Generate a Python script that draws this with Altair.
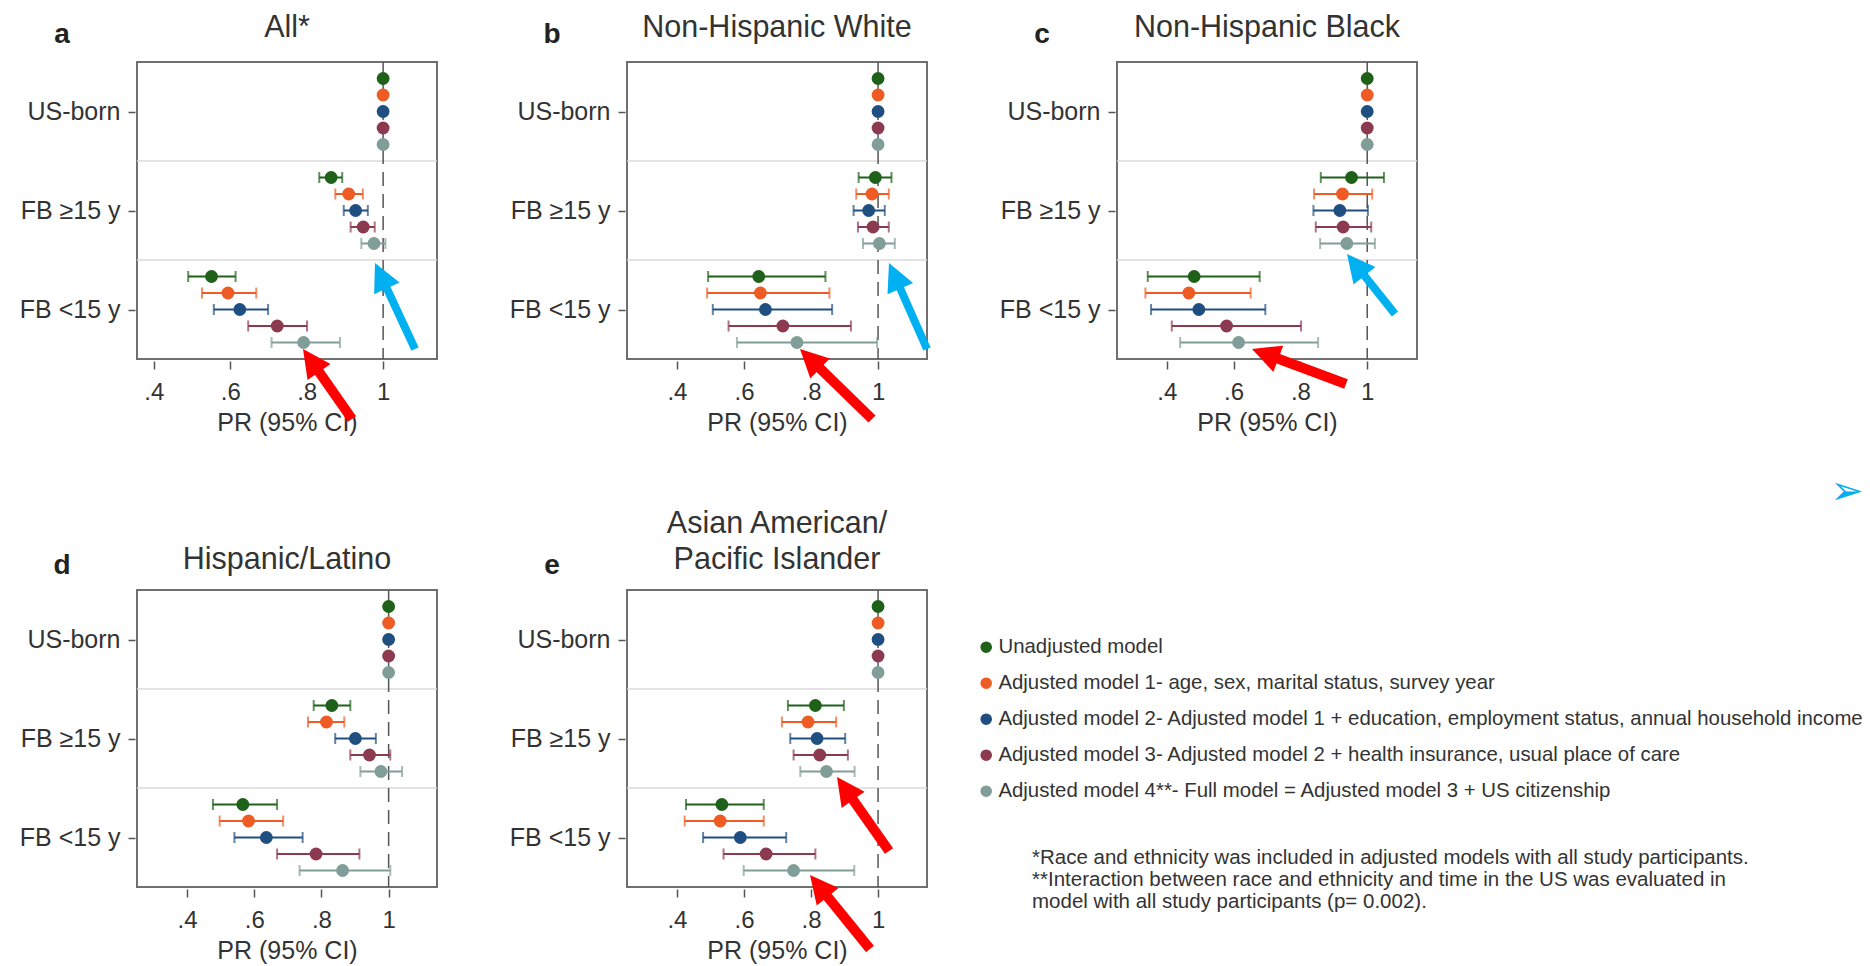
import json
import math
import altair as alt
import pandas as pd

FONT = "Liberation Sans, Arial, Helvetica, sans-serif"
TEXT = "#333333"

# ---------------- data ----------------
groups = ["US-born", "FB \u226515 y", "FB <15 y"]
models = [
    "Unadjusted model",
    "Adjusted model 1- age, sex, marital status, survey year",
    "Adjusted model 2- Adjusted model 1 + education, employment status, annual household income",
    "Adjusted model 3- Adjusted model 2 + health insurance, usual place of care",
    "Adjusted model 4**- Full model = Adjusted model 3 + US citizenship",
]
model_colors = ["#1f6118", "#ee5b24", "#1f4f80", "#8c3a4f", "#809e97"]

letters = ["a", "b", "c", "d", "e"]
titles = [["All*"], ["Non-Hispanic White"], ["Non-Hispanic Black"], ["Hispanic/Latino"],
          ["Asian American/", "Pacific Islander"]]
x_domains = [[0.356, 1.141], [0.251, 1.146], [0.251, 1.149], [0.251, 1.144], [0.251, 1.146]]
x_ticks = [0.4, 0.6, 0.8, 1.0]
null_value = 1.0

# order within each list: US-born (5 models), FB >=15 y (5 models), FB <15 y (5 models)
pr_a = [1, 1, 1, 1, 1, 0.864, 0.910, 0.928, 0.948, 0.976, 0.551, 0.594, 0.625, 0.723, 0.792]
lo_a = [None] * 5 + [0.833, 0.875, 0.897, 0.915, 0.943, 0.490, 0.526, 0.557, 0.647, 0.708]
hi_a = [None] * 5 + [0.893, 0.947, 0.960, 0.978, 1.006, 0.614, 0.668, 0.699, 0.801, 0.887]

pr_b = [1, 1, 1, 1, 1, 0.992, 0.982, 0.972, 0.985, 1.004, 0.644, 0.649, 0.664, 0.716, 0.758]
lo_b = [None] * 5 + [0.942, 0.935, 0.927, 0.940, 0.955, 0.493, 0.490, 0.507, 0.554, 0.579]
hi_b = [None] * 5 + [1.040, 1.032, 1.020, 1.032, 1.050, 0.843, 0.855, 0.863, 0.919, 0.997]

pr_c = [1, 1, 1, 1, 1, 0.953, 0.926, 0.918, 0.928, 0.939, 0.482, 0.466, 0.496, 0.579, 0.615]
lo_c = [None] * 5 + [0.861, 0.841, 0.839, 0.846, 0.859, 0.343, 0.336, 0.353, 0.415, 0.440]
hi_c = [None] * 5 + [1.050, 1.015, 1.002, 1.012, 1.023, 0.678, 0.651, 0.695, 0.802, 0.853]

pr_d = [1, 1, 1, 1, 1, 0.831, 0.815, 0.901, 0.943, 0.977, 0.566, 0.583, 0.636, 0.784, 0.863]
lo_d = [None] * 5 + [0.777, 0.760, 0.841, 0.886, 0.916, 0.477, 0.497, 0.541, 0.668, 0.735]
hi_d = [None] * 5 + [0.886, 0.868, 0.962, 1.005, 1.040, 0.668, 0.686, 0.744, 0.913, 1.005]

pr_e = [1, 1, 1, 1, 1, 0.813, 0.791, 0.818, 0.826, 0.846, 0.534, 0.529, 0.589, 0.666, 0.748]
lo_e = [None] * 5 + [0.731, 0.713, 0.738, 0.748, 0.768, 0.427, 0.423, 0.478, 0.539, 0.599]
hi_e = [None] * 5 + [0.898, 0.875, 0.902, 0.910, 0.930, 0.659, 0.659, 0.726, 0.813, 0.929]

# annotation arrows (colour, tail x, tail y, tip x, tip y) in pixels of each panel's plot area
arrows_a = [("#ff0000", 215, 357, 166, 287), ("#00b0f0", 278, 287, 238, 201)]
arrows_b = [("#ff0000", 245, 357, 173, 287), ("#00b0f0", 300, 287, 262, 201)]
arrows_c = [("#ff0000", 229, 322, 135, 287), ("#00b0f0", 278, 252, 230, 192)]
arrows_d = []
arrows_e = [("#ff0000", 262, 261, 210, 187), ("#ff0000", 243, 359, 183, 285)]

footnote_lines = [
    "*Race and ethnicity was included in adjusted models with all study participants.",
    "**Interaction between race and ethnicity and time in the US was evaluated  in",
    "model with all study participants (p= 0.002).",
]

prs = [pr_a, pr_b, pr_c, pr_d, pr_e]
los = [lo_a, lo_b, lo_c, lo_d, lo_e]
his = [hi_a, hi_b, hi_c, hi_d, hi_e]
arrows = [arrows_a, arrows_b, arrows_c, arrows_d, arrows_e]

# ---------------- styling helpers ----------------
HEAD_PATH = "M0,-1L1,1L-1,1Z"
HEAD_W = 28

cscale = alt.Scale(domain=models, range=model_colors)
legend = alt.Legend(
    title=None, orient="none", legendX=839, legendY=575,
    symbolType="circle", symbolSize=135, symbolStrokeWidth=0, symbolOpacity=1,
    labelFont=FONT, labelFontSize=20.4, labelColor=TEXT, labelLimit=1200,
    rowPadding=15, labelOffset=2,
)

x_label_expr = "datum.value == 1 ? '1' : replace(format(datum.value, '.1f'), '0.', '.')"
y_label_expr = json.dumps(groups, ensure_ascii=False) + "[floor(datum.value)]"


def arrow_frame(arrs):
    rows = []
    for col, x0, y0, x1, y1 in arrs:
        dx, dy = x1 - x0, y1 - y0
        L = math.hypot(dx, dy)
        ux, uy = dx / L, dy / L
        rows.append(dict(
            col=col, x0=x0, y0=y0,
            sx=x1 - 20 * ux, sy=y1 - 20 * uy,
            hx=x1 - HEAD_W / 2 * ux, hy=y1 - HEAD_W / 2 * uy,
            ang=math.degrees(math.atan2(ux, -uy)) % 360,
            w=10 if col == "#ff0000" else 8,
        ))
    return pd.DataFrame(rows)


def one_row():
    return pd.DataFrame({"t": [0]})


def panel(i):
    rows = []
    for gi, g in enumerate(groups):
        for k, m in enumerate(models):
            j = gi * len(models) + k
            rows.append(dict(group=g, model=m, pr=prs[i][j], lo=los[i][j], hi=his[i][j],
                             ypos=gi + (k + 1) / (len(models) + 1)))
    df = pd.DataFrame(rows)
    df_ci = df.dropna(subset=["lo", "hi"])

    xs = alt.Scale(domain=x_domains[i], nice=False, zero=False)
    ys = alt.Scale(domain=[0, len(groups)], reverse=True, nice=False, zero=False)

    x_axis = alt.Axis(values=x_ticks, labelExpr=x_label_expr, title="PR (95% CI)",
                      domain=False, grid=False, tickSize=8, tickWidth=1.5, tickColor="#555555",
                      offset=2, labelPadding=11, labelFont=FONT, labelFontSize=24,
                      labelColor=TEXT, titleFont=FONT, titleFontSize=25,
                      titleFontWeight="normal", titleColor=TEXT, titlePadding=6)
    y_axis = alt.Axis(values=[g + 0.5 for g in range(len(groups))], labelExpr=y_label_expr,
                      title=None, domain=False, grid=False, tickSize=7, tickWidth=1.5,
                      tickColor="#555555", offset=2, labelPadding=8, labelFont=FONT,
                      labelFontSize=25, labelColor=TEXT)

    def X(f):
        return alt.X(f, type="quantitative", scale=xs, axis=x_axis)

    def Y(f):
        return alt.Y(f, type="quantitative", scale=ys, axis=y_axis)

    color = alt.Color("model:N", scale=cscale, legend=legend)

    sep = alt.Chart(pd.DataFrame({"sep": list(range(1, len(groups)))})).mark_rule(
        color="#dadada", strokeWidth=1.5).encode(y=Y("sep"))
    ref = alt.Chart(pd.DataFrame({"ref": [null_value]})).mark_rule(
        color="#555555", strokeWidth=1.5, strokeDash=[14, 8]).encode(x=X("ref"))
    ci = alt.Chart(df_ci).mark_rule(strokeWidth=2).encode(
        x=X("lo"), x2="hi:Q", y=Y("ypos"), color=color)
    cap_lo = alt.Chart(df_ci).mark_tick(orient="vertical", size=11, thickness=2).encode(
        x=X("lo"), y=Y("ypos"), color=color)
    cap_hi = alt.Chart(df_ci).mark_tick(orient="vertical", size=11, thickness=2).encode(
        x=X("hi"), y=Y("ypos"), color=color)
    pts = alt.Chart(df).mark_circle(size=165, opacity=1).encode(
        x=X("pr"), y=Y("ypos"), color=color)

    top_row = i < 3
    letter = alt.Chart(pd.DataFrame({"t": [letters[i]]})).mark_text(
        font=FONT, fontSize=28, fontWeight="bold", color="#222222",
        align="center", baseline="middle").encode(
        text="t:N", x=alt.value(-75), y=alt.value(-27 if top_row else -24))

    layers = [sep, ref, ci, cap_lo, cap_hi, pts, letter]

    # panel title lines (last line's baseline sits just above the plot)
    base = -25 if top_row else -21
    n = len(titles[i])
    for li, line in enumerate(titles[i]):
        layers.append(alt.Chart(one_row()).mark_text(
            text=line, font=FONT, fontSize=30.5, color=TEXT, align="center",
            baseline="alphabetic").encode(
            x=alt.value(150), y=alt.value(base - (n - 1 - li) * 36)))

    if arrows[i]:
        adf = arrow_frame(arrows[i])
        shaft = alt.Chart(adf).mark_rule(strokeCap="butt").encode(
            x=alt.X("x0:Q", scale=None, axis=None), y=alt.Y("y0:Q", scale=None, axis=None),
            x2="sx:Q", y2="sy:Q",
            color=alt.Color("col:N", scale=None, legend=None),
            strokeWidth=alt.StrokeWidth("w:Q", scale=None, legend=None))
        head = alt.Chart(adf).mark_point(shape=HEAD_PATH, filled=True, size=HEAD_W ** 2,
                                         opacity=1, strokeWidth=0).encode(
            x=alt.X("hx:Q", scale=None, axis=None), y=alt.Y("hy:Q", scale=None, axis=None),
            angle=alt.Angle("ang:Q", scale=None),
            color=alt.Color("col:N", scale=None, legend=None))
        layers += [shaft, head]

    if i == 4:
        foot = alt.Chart(one_row()).mark_text(
            text=footnote_lines, font=FONT, fontSize=20.5, color=TEXT, align="left",
            baseline="top", lineHeight=22).encode(x=alt.value(405), y=alt.value(258))
        glyph = alt.Chart(one_row()).mark_text(
            text="\u27a2", font="DejaVu Sans", fontSize=40, color="#00b0f0",
            align="center", baseline="middle").encode(x=alt.value(1220), y=alt.value(-98))
        layers += [foot, glyph]

    return alt.layer(*layers).properties(width=300, height=297)


chart = alt.concat(*[panel(i) for i in range(5)], columns=3,
                   spacing={"row": 231, "column": 190}, bounds="flush").properties(
    padding={"left": 18, "top": 12, "right": 0, "bottom": 0},
    background="white",
).configure(font=FONT).configure_view(stroke="#707070", strokeWidth=2)

chart.save("out.html", embed_options={"renderer": "svg", "actions": False})
